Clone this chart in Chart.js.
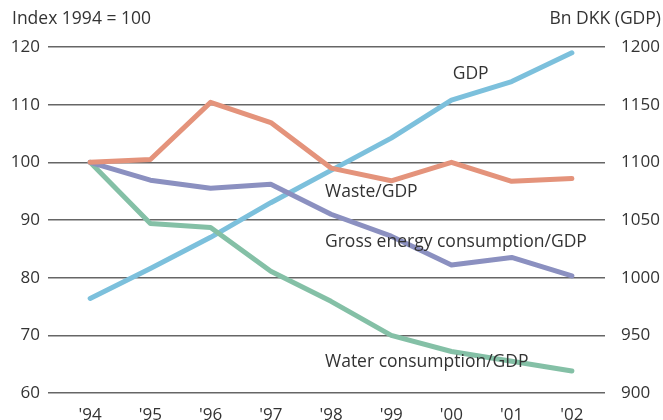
<!DOCTYPE html>
<html>
<head>
<meta charset="utf-8">
<script src="https://cdn.jsdelivr.net/npm/chart.js@4"></script>
<style>
  html, body { margin: 0; padding: 0; background: #fff; }
  #wrap { width: 663px; height: 420px; }
</style>
</head>
<body>
<div id="wrap"><canvas id="chart" width="663" height="420"></canvas></div>
<script>
// =========================
// DATA
// =========================
const years = ["'94", "'95", "'96", "'97", "'98", "'99", "'00", "'01", "'02"];
const gdp = [982, 1008, 1035, 1065, 1093, 1121, 1154, 1170, 1195];        // Bn DKK, right axis
const waste = [100, 100.5, 110.4, 106.9, 99, 96.8, 100, 96.7, 97.2];        // index
const energy = [100, 96.9, 95.5, 96.2, 91, 87.2, 82.2, 83.5, 80.3];         // index
const water = [100, 89.4, 88.7, 81.1, 75.9, 70, 67.2, 65.5, 63.8];          // index
const leftTicks = [60, 70, 80, 90, 100, 110, 120];
const rightTicks = [900, 950, 1000, 1050, 1100, 1150, 1200];

const FONT = "'Open Sans', 'Noto Sans', sans-serif";
const TEXT = "#333";

const pts = arr => arr.map((v, i) => ({ x: i, y: v }));

// labels next to lines + axis titles
const labelPlugin = {
    id: "labels",
    afterDatasetsDraw(chart) {
        const { ctx, scales } = chart;
        const x = scales.x, yl = scales.y, yr = scales.y2;
        ctx.save();
        ctx.fillStyle = TEXT;
        ctx.font = "17.5px " + FONT;
        ctx.textBaseline = "middle";
        ctx.textAlign = "left";
        ctx.fillText("GDP", x.getPixelForValue(6.02), yr.getPixelForValue(1177));
        ctx.fillText("Waste/GDP", x.getPixelForValue(3.9), yl.getPixelForValue(94.9));
        ctx.fillText("Gross energy consumption/GDP", x.getPixelForValue(3.9), yl.getPixelForValue(86.2));
        ctx.fillText("Water consumption/GDP", x.getPixelForValue(3.9), yl.getPixelForValue(65.4));

        ctx.textBaseline = "alphabetic";
        ctx.fillText("Index 1994 = 100", 12, 24);
        ctx.textAlign = "right";
        ctx.fillText("Bn DKK (GDP)", 661, 24);
        ctx.restore();
    }
};

const lineDs = (label, data, color, axis) => ({
    label,
    data: pts(data),
    yAxisID: axis,
    borderColor: color,
    backgroundColor: color,
    borderWidth: 5,
    pointRadius: 0,
    tension: 0,
    fill: false,
    borderCapStyle: "round",
    borderJoinStyle: "round"
});

new Chart(document.getElementById("chart"), {
    type: "line",
    data: {
        datasets: [
            lineDs("Waste/GDP", waste, "#e4937b", "y"),
            lineDs("Gross energy consumption/GDP", energy, "#8b90c0", "y"),
            lineDs("Water consumption/GDP", water, "#84c0a6", "y"),
            lineDs("GDP", gdp, "#7cc0dc", "y2")
        ]
    },
    options: {
        responsive: false,
        animation: false,
        layout: { padding: { top: 47, left: 0, right: 0, bottom: 0 } },
        plugins: {
            legend: { display: false },
            tooltip: { enabled: false }
        },
        scales: {
            x: {
                type: "linear",
                min: -0.7,
                max: 8.55,
                afterBuildTicks(scale) {
                    scale.ticks = years.map((_, i) => ({ value: i }));
                },
                afterFit(scale) { scale.height = 27; },
                grid: { display: false },
                border: { display: false },
                ticks: {
                    autoSkip: false,
                    maxRotation: 0,
                    padding: 4,
                    color: TEXT,
                    font: { family: FONT, size: 17 },
                    callback: v => years[v]
                }
            },
            y: {
                position: "left",
                min: 60,
                max: 120,
                afterBuildTicks(scale) {
                    scale.ticks = leftTicks.map(v => ({ value: v }));
                },
                afterFit(scale) { scale.width = 48; },
                grid: { color: "#666", lineWidth: 1.5, drawTicks: false },
                border: { display: false },
                ticks: {
                    padding: 8,
                    color: TEXT,
                    font: { family: FONT, size: 17 },
                    callback: v => String(v)
                }
            },
            y2: {
                position: "right",
                min: 900,
                max: 1200,
                afterBuildTicks(scale) {
                    scale.ticks = rightTicks.map(v => ({ value: v }));
                },
                afterFit(scale) { scale.width = 58; },
                grid: { display: false },
                border: { display: false },
                ticks: {
                    padding: 8,
                    color: TEXT,
                    font: { family: FONT, size: 17 },
                    callback: v => String(v)
                }
            }
        }
    },
    plugins: [labelPlugin]
});
</script>
</body>
</html>
